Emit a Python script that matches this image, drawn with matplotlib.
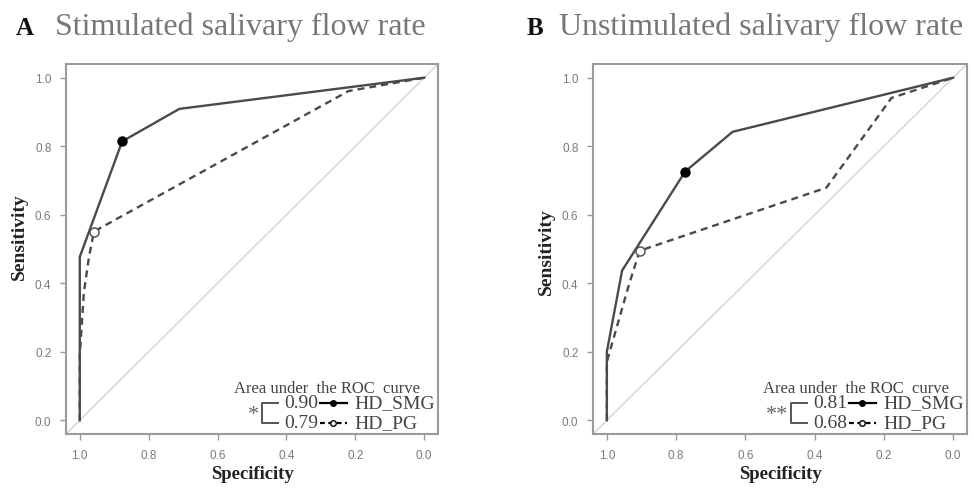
import matplotlib
matplotlib.use("Agg")
import matplotlib.pyplot as plt
from matplotlib.lines import Line2D

# ROC curve points (specificity, sensitivity)
a_smg_spec = [1.0, 1.0, 0.877, 0.711, 0.0]
a_smg_sens = [0.0, 0.477, 0.814, 0.909, 1.0]
a_pg_spec = [1.0, 1.0, 0.988, 0.974, 0.959, 0.22, 0.0]
a_pg_sens = [0.0, 0.19, 0.374, 0.472, 0.551, 0.961, 1.0]
a_smg_cut = (0.877, 0.814)
a_pg_cut = (0.959, 0.551)

b_smg_spec = [1.0, 1.0, 0.956, 0.774, 0.637, 0.0]
b_smg_sens = [0.0, 0.2, 0.437, 0.726, 0.842, 1.0]
b_pg_spec = [1.0, 1.0, 0.935, 0.905, 0.366, 0.178, 0.0]
b_pg_sens = [0.0, 0.171, 0.40, 0.495, 0.679, 0.941, 1.0]
b_smg_cut = (0.774, 0.726)
b_pg_cut = (0.905, 0.495)

auc_a = ["0.90", "0.79"]
auc_b = ["0.81", "0.68"]
series_names = ["HD_SMG", "HD_PG"]
ticks = [1.0, 0.8, 0.6, 0.4, 0.2, 0.0]
tick_labels = ["1.0", "0.8", "0.6", "0.4", "0.2", "0.0"]

plt.rcParams["lines.scale_dashes"] = False
serif = "Liberation Serif"
sans = "Liberation Sans"
W, H = 974, 489

fig = plt.figure(figsize=(W / 100, H / 100), dpi=100)

def fx(px):
    return px / W

def fy(py):
    return 1 - py / H

curve_col = "#4a4a4a"
dash = (0, (5, 3.6))

def panel(left, right, letter, title, title_x, letter_x,
          smg, pg, smg_cut, pg_cut, aucs, stars, ylab_y):
    ax = fig.add_axes([fx(left), fy(435), fx(right) - fx(left), fy(65) - fy(435)])
    ax.set_xlim(1.04, -0.04)
    ax.set_ylim(-0.04, 1.04)
    # chance line
    ax.plot([1.1, -0.1], [-0.1, 1.1], color="#d4d4d4", lw=1.0)
    ax.plot(pg[0], pg[1], color=curve_col, lw=1.7, linestyle=dash)
    ax.plot(smg[0], smg[1], color=curve_col, lw=1.7)
    ax.plot(*smg_cut, "o", color="black", ms=6.5)
    ax.plot(*pg_cut, "o", mfc="white", mec="#555555", mew=1.1, ms=6.5)
    ax.set_xticks(ticks)
    ax.set_xticklabels(tick_labels)
    ax.set_yticks(ticks[::-1])
    ax.set_yticklabels(tick_labels[::-1])
    ax.tick_params(direction="out", length=4.5, width=1, color="#999999",
                   labelcolor="#7a7a7a", labelsize=8.5, pad=6)
    for lab in ax.get_xticklabels() + ax.get_yticklabels():
        lab.set_fontfamily(sans)
    for s in ax.spines.values():
        s.set_color("#9a9a9a")
        s.set_linewidth(1.5)

    fig.text(fx(letter_x), fy(35), letter, fontsize=18, fontweight="bold",
             family=serif, color="#111111", va="baseline")
    fig.text(fx(title_x), fy(35), title, fontsize=23, family=serif,
             color="#777777", va="baseline")

    cx = (left + right) / 2
    fig.text(fx(cx), fy(475), "Specificity", fontsize=13.5, fontweight="bold",
             family=serif, color="#222222", ha="center", va="center")
    fig.text(fx(left - 47), fy(ylab_y), "Sensitivity", fontsize=14,
             fontweight="bold", family=serif, color="#222222",
             rotation=90, ha="center", va="center")

    # AUC legend
    r = right
    fig.text(fx(r - 111), fy(389), "Area under  the ROC  curve", fontsize=12,
             family=serif, color="#444444", ha="center", va="center")
    y1, y2 = 404, 424
    bx = r - 176
    fig.add_artist(Line2D([fx(bx + 16), fx(bx), fx(bx), fx(bx + 16)],
                          [fy(y1), fy(y1), fy(y2), fy(y2)],
                          color="#555555", lw=1.4))
    fig.text(fx(bx - 3), fy((y1 + y2) / 2 + 2), stars, fontsize=16,
             family=serif, color="#666666", ha="right", va="center")
    for i, yy in enumerate([y1, y2]):
        fig.text(fx(r - 154), fy(yy), aucs[i], fontsize=14, family=serif,
                 color="#444444", va="center")
        if i == 0:
            fig.add_artist(Line2D([fx(r - 118), fx(r - 91)], [fy(yy), fy(yy)],
                                  color="black", lw=1.6))
            fig.add_artist(Line2D([fx(r - 105)], [fy(yy)], marker="o",
                                  color="black", ms=4))
        else:
            fig.add_artist(Line2D([fx(r - 118), fx(r - 91)], [fy(yy), fy(yy)],
                                  color="black", lw=1.6, linestyle=(0, (3.5, 2.5))))
            fig.add_artist(Line2D([fx(r - 105)], [fy(yy)], marker="o",
                                  mfc="white", mec="black", ms=4))
        fig.text(fx(r - 84), fy(yy), series_names[i], fontsize=14,
                 family=serif, color="#444444", va="center")
    return ax

panel(66, 438, "A", "Stimulated salivary flow rate", 55, 16,
      (a_smg_spec, a_smg_sens), (a_pg_spec, a_pg_sens), a_smg_cut, a_pg_cut,
      auc_a, "*", 237)
panel(593, 967, "B", "Unstimulated salivary flow rate", 559, 527,
      (b_smg_spec, b_smg_sens), (b_pg_spec, b_pg_sens), b_smg_cut, b_pg_cut,
      auc_b, "**", 252)

fig.savefig("out.png", dpi=100)
